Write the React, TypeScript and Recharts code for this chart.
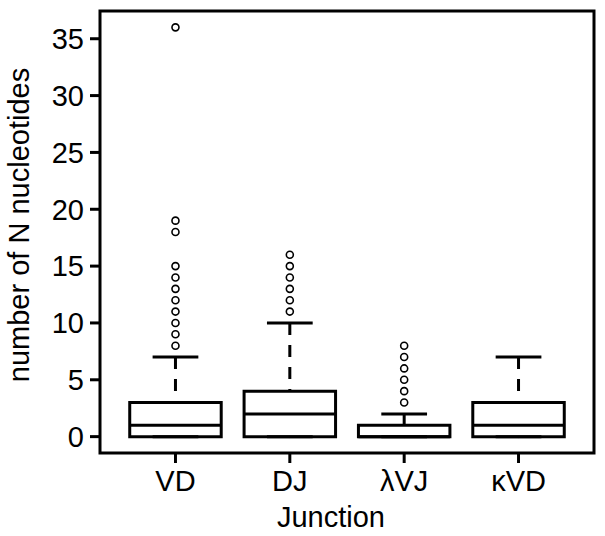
import { ComposedChart, Scatter, XAxis, YAxis, ReferenceArea, ReferenceLine } from 'recharts'

const categories = ['VD', 'DJ', 'λVJ', 'κVD']
const lowerWhisker = [0, 0, 0, 0]
const q1 = [0, 0, 0, 0]
const median = [1, 2, 0, 1]
const q3 = [3, 4, 1, 3]
const upperWhisker = [7, 10, 2, 7]
const outliers = [
  [8, 9, 10, 11, 12, 13, 14, 15, 18, 19, 36],
  [11, 12, 13, 14, 15, 16],
  [3, 4, 5, 6, 7, 8],
  [],
]
const yTicks = [0, 5, 10, 15, 20, 25, 30, 35]

const FONT = '"Liberation Sans", Arial, Helvetica, sans-serif'
const BOX_HALF = 0.4
const CAP_HALF = 0.2
const LW = 3

// R-style 4% padding around the data range
const allY = [...lowerWhisker, ...upperWhisker, ...outliers.flat()]
const yLo = Math.min(...allY)
const yHi = Math.max(...allY)
const yPad = (yHi - yLo) * 0.04
const Y_DOMAIN: [number, number] = [yLo - yPad, yHi + yPad]
const xPad = 0.5 + categories.length * 0.04
const X_DOMAIN: [number, number] = [1 - xPad, categories.length + xPad]

const points = outliers.flatMap((vals, i) => vals.map(v => ({ x: i + 1, y: v })))

const Ring = (props: any) => (
  <circle cx={props.cx} cy={props.cy} r={3.5} fill="none" stroke="#000" strokeWidth={1.6} />
)

export default function App() {
  const tickStyle = { fontSize: 29, fill: '#000', fontFamily: FONT }
  return (
    <div style={{ position: 'absolute', left: 0, top: 0, background: '#fff' }}>
      <ComposedChart width={605} height={536} margin={{ top: 11, right: 11, bottom: 0, left: 0 }}>
        <XAxis
          type="number"
          dataKey="x"
          domain={X_DOMAIN}
          allowDataOverflow
          ticks={categories.map((_, i) => i + 1)}
          tickFormatter={(v: number) => categories[v - 1] ?? ''}
          tick={tickStyle}
          axisLine={false}
          tickLine={{ stroke: '#000', strokeWidth: LW }}
          tickSize={10}
          tickMargin={7}
          height={83}
          interval={0}
          label={{
            content: () => (
              <text x={331} y={527} textAnchor="middle" fontSize={29} fontFamily={FONT} fill="#000">
                Junction
              </text>
            ),
          }}
        />
        <YAxis
          type="number"
          dataKey="y"
          domain={Y_DOMAIN}
          allowDataOverflow
          ticks={yTicks}
          tick={tickStyle}
          axisLine={false}
          tickLine={{ stroke: '#000', strokeWidth: LW }}
          tickSize={10}
          tickMargin={6}
          width={100}
          interval={0}
          label={{
            content: () => (
              <text transform="translate(29,225) rotate(-90)" textAnchor="middle" fontSize={29} fontFamily={FONT} fill="#000">
                number of N nucleotides
              </text>
            ),
          }}
        />

        {categories.map((c, i) => {
          const x = i + 1
          return [
            <ReferenceLine
              key={c + '-wu'}
              segment={[{ x, y: upperWhisker[i] }, { x, y: q3[i] }]}
              stroke="#000"
              strokeWidth={LW}
              strokeDasharray="12 10"
            />,
            <ReferenceLine
              key={c + '-wl'}
              segment={[{ x, y: lowerWhisker[i] }, { x, y: q1[i] }]}
              stroke="#000"
              strokeWidth={LW}
              strokeDasharray="12 10"
            />,
            <ReferenceLine
              key={c + '-cu'}
              segment={[{ x: x - CAP_HALF, y: upperWhisker[i] }, { x: x + CAP_HALF, y: upperWhisker[i] }]}
              stroke="#000"
              strokeWidth={LW}
            />,
            <ReferenceLine
              key={c + '-cl'}
              segment={[{ x: x - CAP_HALF, y: lowerWhisker[i] }, { x: x + CAP_HALF, y: lowerWhisker[i] }]}
              stroke="#000"
              strokeWidth={LW}
            />,
            <ReferenceArea
              key={c + '-box'}
              x1={x - BOX_HALF}
              x2={x + BOX_HALF}
              y1={q1[i]}
              y2={q3[i]}
              fill="#fff"
              fillOpacity={1}
              stroke="#000"
              strokeWidth={LW}
            />,
            <ReferenceLine
              key={c + '-med'}
              segment={[{ x: x - BOX_HALF, y: median[i] }, { x: x + BOX_HALF, y: median[i] }]}
              stroke="#000"
              strokeWidth={LW}
            />,
          ]
        })}

        <ReferenceArea
          x1={X_DOMAIN[0]}
          x2={X_DOMAIN[1]}
          y1={Y_DOMAIN[0]}
          y2={Y_DOMAIN[1]}
          fill="none"
          stroke="#000"
          strokeWidth={3}
        />

        <Scatter data={points} shape={Ring} isAnimationActive={false} />
      </ComposedChart>
    </div>
  )
}
